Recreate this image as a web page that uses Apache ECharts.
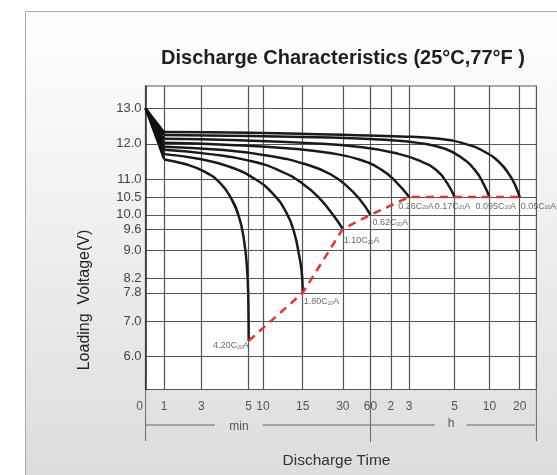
<!DOCTYPE html>
<html><head><meta charset="utf-8">
<script src="https://cdn.jsdelivr.net/npm/echarts@6/dist/echarts.min.js"></script>
<style>html,body{margin:0;padding:0;background:#fff}#c{width:557px;height:475px}</style>
</head><body><div id="c"></div>
<script>
// ---- Data ----
// X axis is a hand-drawn (irregular) time axis: positions in axis units, with labels
const xTickPos    = [0, 18.5, 55.8, 103.1, 117.3, 157.1, 197.2, 224.9, 245.2, 263.6, 309.1, 343.9, 374.1];
const xTickLabels = ['0', '1', '3', '5', '10', '15', '30', '60', '2', '3', '5', '10', '20'];
const xMax = 390.8;
const yTicks = [6.0, 7.0, 7.8, 8.2, 9.0, 9.6, 10.0, 10.5, 11.0, 12.0, 13.0];
const yMin = 5.076, yMax = 13.63;

const curveRates = ['4.20', '1.80', '1.10', '0.62', '0.26', '0.17', '0.095', '0.05'];

const c420  = [[0,13.0],[18.5,11.56],[39.4,11.43],[59.4,11.21],[74.4,10.90],[85.4,10.47],[93.4,9.94],[98.4,9.29],[101.4,8.50],[102.7,7.60],[103.1,6.45]];
const c180  = [[0,13.0],[18.5,11.71],[54.4,11.57],[84.4,11.35],[109.4,11.01],[127.4,10.59],[140.4,10.08],[148.4,9.52],[153.4,8.87],[156.4,8.30],[157.1,7.8]];
const c110  = [[0,13.0],[18.5,11.83],[64.4,11.71],[104.4,11.52],[134.4,11.24],[157.4,10.87],[174.4,10.45],[187.4,10.0],[197.2,9.6]];
const c062  = [[0,13.0],[18.5,11.92],[74.4,11.83],[124.4,11.66],[159.4,11.43],[184.4,11.15],[202.4,10.78],[215.4,10.39],[224.9,10.0]];
const c026  = [[0,13.0],[18.5,12.03],[84.4,11.97],[144.4,11.87],[184.4,11.74],[214.4,11.55],[236.4,11.26],[250.4,10.93],[263.6,10.5]];
const c017  = [[0,13.0],[18.5,12.14],[94.4,12.10],[164.4,12.02],[214.4,11.91],[249.4,11.74],[274.4,11.52],[291.4,11.24],[301.4,10.90],[309.1,10.5]];
const c0095 = [[0,13.0],[18.5,12.25],[104.4,12.22],[184.4,12.18],[234.4,12.12],[274.4,12.02],[299.4,11.86],[316.4,11.60],[329.4,11.26],[337.4,10.90],[343.9,10.5]];
const c005  = [[0,13.0],[18.5,12.33],[104.4,12.31],[184.4,12.26],[254.4,12.21],[294.4,12.14],[319.4,12.0],[339.4,11.77],[354.4,11.46],[364.4,11.10],[370.4,10.78],[374.1,10.5]];
const curves = [c420, c180, c110, c062, c026, c017, c0095, c005];

// final-voltage line joining the curve ends
const endVoltageLine = [[103.1,6.45],[157.1,7.8],[197.2,9.6],[224.9,10.0],[263.6,10.5],[374.1,10.5]];

// ---- Layout / style ----
const FONT = 'Liberation Sans, Arial, sans-serif';
const labelLayout = [
  {align:'right', offset:[0,5]},
  {align:'left', offset:[1,9]},
  {align:'left', offset:[1,12]},
  {align:'left', offset:[2,8]},
  {align:'left', offset:[-11,9]},
  {align:'left', offset:[-20,9]},
  {align:'left', offset:[-14,9]},
  {align:'left', offset:[1,9]}
];

const series = [];
curves.forEach((c) => {
  series.push({type:'line', data:c.slice(0,2), symbol:'none', silent:true, z:3,
    lineStyle:{color:'#111', width:2.3}});
  series.push({type:'line', data:c.slice(1), symbol:'none', smooth:0.5, silent:true, z:3,
    lineStyle:{color:'#1a1a1a', width:2.5}});
});
series.push({type:'line', data:endVoltageLine, symbol:'none', silent:true, z:4,
  lineStyle:{color:'#e8322b', width:2.5, type:[8,6]}});
series.push({type:'scatter', symbolSize:0, silent:true, z:5,
  data: curves.map((c, i) => ({
    value: c[c.length-1],
    label: {show:true, position:'inside', align:labelLayout[i].align, verticalAlign:'middle',
      offset: labelLayout[i].offset,
      formatter: '{b|' + curveRates[i] + 'C}{s|20}{b|A}',
      rich: {b:{fontSize:9, color:'#444', fontFamily:FONT}, s:{fontSize:5, color:'#444', fontFamily:FONT, verticalAlign:'bottom', padding:[4,0,0,0]}}}
  }))
});

const bgRect = () => ({type:'rect', z:-100, shape:{x:25.5, y:11.5, width:600, height:500},
  style:{fill:new echarts.graphic.LinearGradient(0,0,0,1,[{offset:0,color:'#ffffff'},{offset:1,color:'#dadada'}]), stroke:'#a9a9a9', lineWidth:1}});

const chart = echarts.init(document.getElementById('c'));
chart.setOption({
  animation:false,
  backgroundColor:'#fff',
  graphic:[bgRect()],
  title:{text:'Discharge Characteristics (25°C,77°F )', left:338, top:43, textAlign:'center',
    textStyle:{fontFamily:FONT, fontSize:20, fontWeight:'bold', color:'#1e1e1e'}},
  grid:{left:145.6, right:20.6, top:86, bottom:85.5, show:true, backgroundColor:'#fff', borderColor:'#555', borderWidth:1.2, outerBoundsMode:'none'},
  xAxis:{type:'value', min:0, max:xMax,
    axisLine:{show:false},
    axisTick:{show:false, customValues:xTickPos},
    axisLabel:{customValues:xTickPos, margin:11, color:'#555', fontSize:12, fontFamily:FONT,
      formatter:(v) => { const i = xTickPos.findIndex(p => Math.abs(p - v) < 1e-6); return i === 0 ? '{z|0}' : (i >= 0 ? xTickLabels[i] : ''); },
      rich:{z:{padding:[0,12,0,0], fontSize:12, color:'#555', fontFamily:FONT}}},
    splitLine:{show:true, lineStyle:{color:'#555', width:1.2}},
    name:'Discharge Time', nameLocation:'middle', nameGap:63,
    nameTextStyle:{fontSize:15.5, color:'#333', fontFamily:FONT, padding:[0,9,0,0]}},
  yAxis:{type:'value', min:yMin, max:yMax,
    axisLine:{show:true, lineStyle:{color:'#333', width:1.5}},
    axisTick:{show:false, customValues:yTicks},
    axisLabel:{customValues:yTicks, margin:4, color:'#444', fontSize:13, fontFamily:FONT, formatter:(v) => v.toFixed(1)},
    splitLine:{show:true, lineStyle:{color:'#555', width:1.2}}},
  series: series
});

// ---- decorations under the time axis (min / h brackets) ----
const toPx = (u, v) => chart.convertToPixel({gridIndex:0}, [u, v]);
const bottomY = toPx(0, yMin)[1];
const bracketY = bottomY + 35.5, vEndY = bottomY + 51.5;
const bracketSegs = [[0,69.4],[117,289.4],[321,389.4]];
const unitLabels = [{text:'min', u:93.4, dy:1.5}, {text:'h', u:305.4, dy:-1}];
const g = [bgRect()];
bracketSegs.forEach(s => {
  g.push({type:'line', shape:{x1:toPx(s[0],yMin)[0], y1:bracketY, x2:toPx(s[1],yMin)[0], y2:bracketY}, style:{stroke:'#666', lineWidth:1}});
});
[0, xTickPos[7], xMax].forEach((u, i) => {
  const x = toPx(u, yMin)[0];
  g.push({type:'line', shape:{x1:x, y1:bottomY, x2:x, y2: i === 1 ? vEndY + 1 : vEndY}, style:{stroke:'#666', lineWidth:1}});
});
unitLabels.forEach(l => {
  g.push({type:'text', x:toPx(l.u,yMin)[0], y:bracketY + l.dy,
    style:{text:l.text, fontSize:12, fontFamily:FONT, fill:'#555', align:'center', verticalAlign:'middle', textAlign:'center', textVerticalAlign:'middle'}});
});
g.push({type:'text', x:85, y:300, rotation:Math.PI/2,
  style:{text:'Loading  Voltage(V)', fontSize:16, fontFamily:FONT, fill:'#222', align:'center', verticalAlign:'middle', textAlign:'center', textVerticalAlign:'middle'}});
chart.setOption({graphic:g}, {replaceMerge:['graphic']});
</script>
</body></html>
